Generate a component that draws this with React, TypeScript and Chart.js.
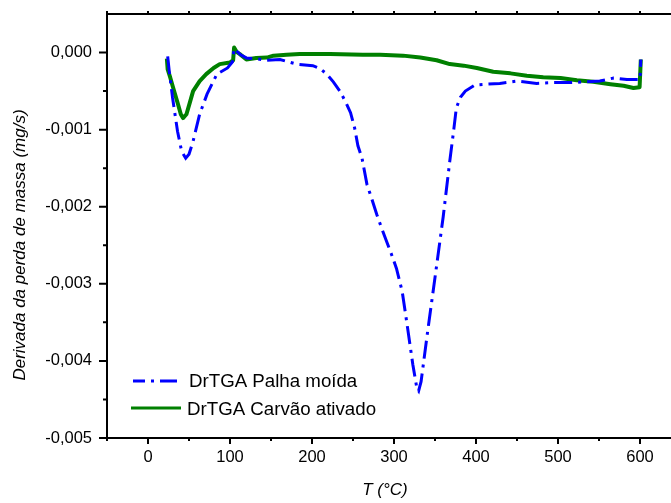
import { useEffect, useRef } from "react";
import { Chart, registerables } from "chart.js";

Chart.register(...registerables);

const FONT = "'Liberation Sans', Arial, sans-serif";

// DrTGA of ground straw: temperature (°C) and mass-loss derivative (mg/s)
const PALHA_T = [
  24, 26, 30, 36, 41, 46, 50, 55, 63, 72, 84, 97, 103, 105, 108, 113, 120, 132,
  145, 161, 181, 201, 210, 218, 226, 234, 241, 247, 252, 256, 261, 267, 273, 279,
  285, 291, 297, 303, 310, 316, 323, 328, 330, 333, 341, 351, 360, 368, 373, 376,
  381, 387, 399, 413, 429, 450, 474, 494, 515, 535, 551, 568, 584, 594, 600, 601,
];
const PALHA_DTG = [
  -0.00005, -0.00025, -0.00059, -0.00102, -0.00128, -0.00137, -0.00132, -0.00115,
  -0.0008, -0.00054, -0.00028, -0.0002, -0.00012, 0.00005, 0.00002, -0.00003,
  -0.00007, -0.00008, -0.0001, -0.00009, -0.00015, -0.00017, -0.00021, -0.00028,
  -0.00038, -0.0005, -0.00064, -0.00078, -0.00098, -0.00121, -0.00137, -0.00171,
  -0.0019, -0.0021, -0.00228, -0.00245, -0.00262, -0.0028, -0.0031, -0.00353,
  -0.00405, -0.00436, -0.00439, -0.00427, -0.00362, -0.00284, -0.00213, -0.00141,
  -0.00099, -0.00072, -0.00058, -0.0005, -0.00042, -0.00041, -0.0004, -0.00037,
  -0.0004, -0.00039, -0.00039, -0.00038, -0.00037, -0.00033, -0.00035, -0.00035,
  -0.00035, -0.00009,
];

// DrTGA of activated carbon
const CARVAO_T = [
  23, 24, 27, 30.5, 36.6, 40, 42.7, 46.9, 51, 55, 63, 71, 80, 87.5, 99.8, 103.8,
  105, 108, 112, 120, 132, 145, 153, 169, 185, 222, 262, 283, 311, 332, 352, 368,
  385, 401, 421, 442, 462, 482, 503, 523, 543, 564, 580, 592, 599.5, 601,
];
const CARVAO_DTG = [
  -0.00008, -0.00022, -0.00032, -0.00045, -0.00067, -0.0008, -0.00085, -0.0008,
  -0.00065, -0.0005, -0.00037, -0.00028, -0.0002, -0.00015, -0.00013, -0.0001,
  0.000065, 0.00001, -0.00002, -0.00009, -0.00007, -0.000065, -0.00004, -0.00003,
  -0.00002, -0.00002, -0.00003, -0.00003, -0.00004, -0.000065, -0.0001, -0.00015,
  -0.00017, -0.0002, -0.00025, -0.00027, -0.0003, -0.00032, -0.00033, -0.00036,
  -0.00038, -0.00041, -0.00043, -0.00046, -0.00045, -0.00009,
];

const X_TICKS = [0, 100, 200, 300, 400, 500, 600, 700];
const Y_TICKS = [-0.005, -0.004, -0.003, -0.002, -0.001, 0];
const X_MIN = -50;
const X_MAX = 700;
const Y_MIN = -0.005;
const Y_MAX = 0.0005;

const SERIES_LABELS = ["DrTGA Palha moída", "DrTGA Carvão ativado"];
const X_TITLE = "T (°C)";
const Y_TITLE = "Derivada da perda de massa (mg/s)";

const BLUE = "#0000ff";
const GREEN = "#008000";
const BLUE_DASH = [18, 6, 3, 6];

const fmtY = (v: number) =>
  (Math.abs(v) < 1e-9 ? 0 : v).toFixed(3).replace(".", ",");

const toPoints = (xs: number[], ys: number[]) =>
  xs.map((x, i) => ({ x, y: ys[i] }));

// Box frame with outward major/minor ticks (Origin style)
const framePlugin = {
  id: "frame",
  afterDraw(chart: any) {
    const { ctx, chartArea: a, scales } = chart;
    const xs = scales.x;
    const ys = scales.y;
    ctx.save();
    ctx.strokeStyle = "#000";
    ctx.lineWidth = 2;
    ctx.lineCap = "butt";
    ctx.strokeRect(a.left, a.top, a.right - a.left, a.bottom - a.top);

    ctx.beginPath();
    X_TICKS.forEach((v) => {
      const px = xs.getPixelForValue(v);
      ctx.moveTo(px, a.bottom);
      ctx.lineTo(px, a.bottom + 6);
      ctx.moveTo(px, a.top);
      ctx.lineTo(px, a.top - 3);
    });
    X_TICKS.map((v) => v - 50).forEach((v) => {
      const px = xs.getPixelForValue(v);
      ctx.moveTo(px, a.bottom);
      ctx.lineTo(px, a.bottom + 3);
      ctx.moveTo(px, a.top);
      ctx.lineTo(px, a.top - 3);
    });
    Y_TICKS.forEach((v) => {
      const py = ys.getPixelForValue(v);
      ctx.moveTo(a.left, py);
      ctx.lineTo(a.left - 8, py);
    });
    Y_TICKS.map((v) => v + 0.0005)
      .filter((v) => v < Y_MAX)
      .forEach((v) => {
        const py = ys.getPixelForValue(v);
        ctx.moveTo(a.left, py);
        ctx.lineTo(a.left - 4, py);
      });
    ctx.stroke();
    ctx.restore();
  },
};

// Axis titles and the in-plot legend
const textPlugin = {
  id: "texts",
  afterDraw(chart: any) {
    const { ctx } = chart;
    ctx.save();
    ctx.fillStyle = "#000";

    ctx.font = `italic 17px ${FONT}`;
    ctx.textAlign = "center";
    ctx.textBaseline = "middle";
    ctx.fillText(X_TITLE, 385, 490);

    ctx.save();
    ctx.translate(20, 245);
    ctx.rotate(-Math.PI / 2);
    ctx.fillText(Y_TITLE, 0, 0);
    ctx.restore();

    ctx.lineCap = "butt";
    ctx.lineWidth = 3;
    ctx.strokeStyle = BLUE;
    ctx.setLineDash(BLUE_DASH);
    ctx.lineDashOffset = 6;
    ctx.beginPath();
    ctx.moveTo(133, 381);
    ctx.lineTo(177, 381);
    ctx.stroke();

    ctx.setLineDash([]);
    ctx.strokeStyle = GREEN;
    ctx.beginPath();
    ctx.moveTo(131, 408);
    ctx.lineTo(181, 408);
    ctx.stroke();

    ctx.font = `18.7px ${FONT}`;
    ctx.textAlign = "left";
    ctx.fillText(SERIES_LABELS[0], 189, 382);
    ctx.fillText(SERIES_LABELS[1], 187, 409.5);
    ctx.restore();
  },
};

export default function App() {
  const ref = useRef<HTMLCanvasElement | null>(null);

  useEffect(() => {
    const canvas = ref.current;
    if (!canvas) return;
    const tickFont = { family: FONT, size: 16.5 };
    const chart = new Chart(canvas, {
      type: "line",
      data: {
        datasets: [
          {
            label: SERIES_LABELS[0],
            data: toPoints(PALHA_T, PALHA_DTG),
            borderColor: BLUE,
            borderWidth: 3,
            borderDash: BLUE_DASH,
            pointRadius: 0,
            fill: false,
            tension: 0,
          },
          {
            label: SERIES_LABELS[1],
            data: toPoints(CARVAO_T, CARVAO_DTG),
            borderColor: GREEN,
            borderWidth: 4,
            borderJoinStyle: "round",
            pointRadius: 0,
            fill: false,
            tension: 0,
          },
        ],
      },
      options: {
        responsive: false,
        animation: false,
        events: [],
        layout: { padding: { top: 14, right: 20, left: 0, bottom: 0 } },
        plugins: {
          legend: { display: false },
          tooltip: { enabled: false },
        },
        scales: {
          x: {
            type: "linear",
            min: X_MIN,
            max: X_MAX,
            afterBuildTicks: (s: any) => {
              s.ticks = X_TICKS.map((value) => ({ value }));
            },
            afterFit: (s: any) => {
              s.height = 65;
              s.paddingLeft = 0;
              s.paddingRight = 0;
            },
            grid: { display: false, drawTicks: false },
            border: { display: false },
            ticks: {
              font: tickFont,
              color: "#000",
              padding: 10,
              maxRotation: 0,
              autoSkip: false,
              callback: (v: any) => String(v),
            },
          },
          y: {
            type: "linear",
            min: Y_MIN,
            max: Y_MAX,
            afterBuildTicks: (s: any) => {
              s.ticks = Y_TICKS.map((value) => ({ value }));
            },
            afterFit: (s: any) => {
              s.width = 107;
              s.paddingTop = 0;
              s.paddingBottom = 0;
            },
            grid: { display: false, drawTicks: false },
            border: { display: false },
            ticks: {
              font: tickFont,
              color: "#000",
              padding: 15,
              autoSkip: false,
              callback: (v: any) => fmtY(Number(v)),
            },
          },
        },
      } as any,
      plugins: [framePlugin, textPlugin],
    });
    return () => chart.destroy();
  }, []);

  return (
    <div
      style={{
        position: "fixed",
        left: 0,
        top: 0,
        width: 671,
        height: 503,
        overflow: "hidden",
        background: "#fff",
      }}
    >
      <canvas ref={ref} width={742} height={503} style={{ display: "block" }} />
    </div>
  );
}
